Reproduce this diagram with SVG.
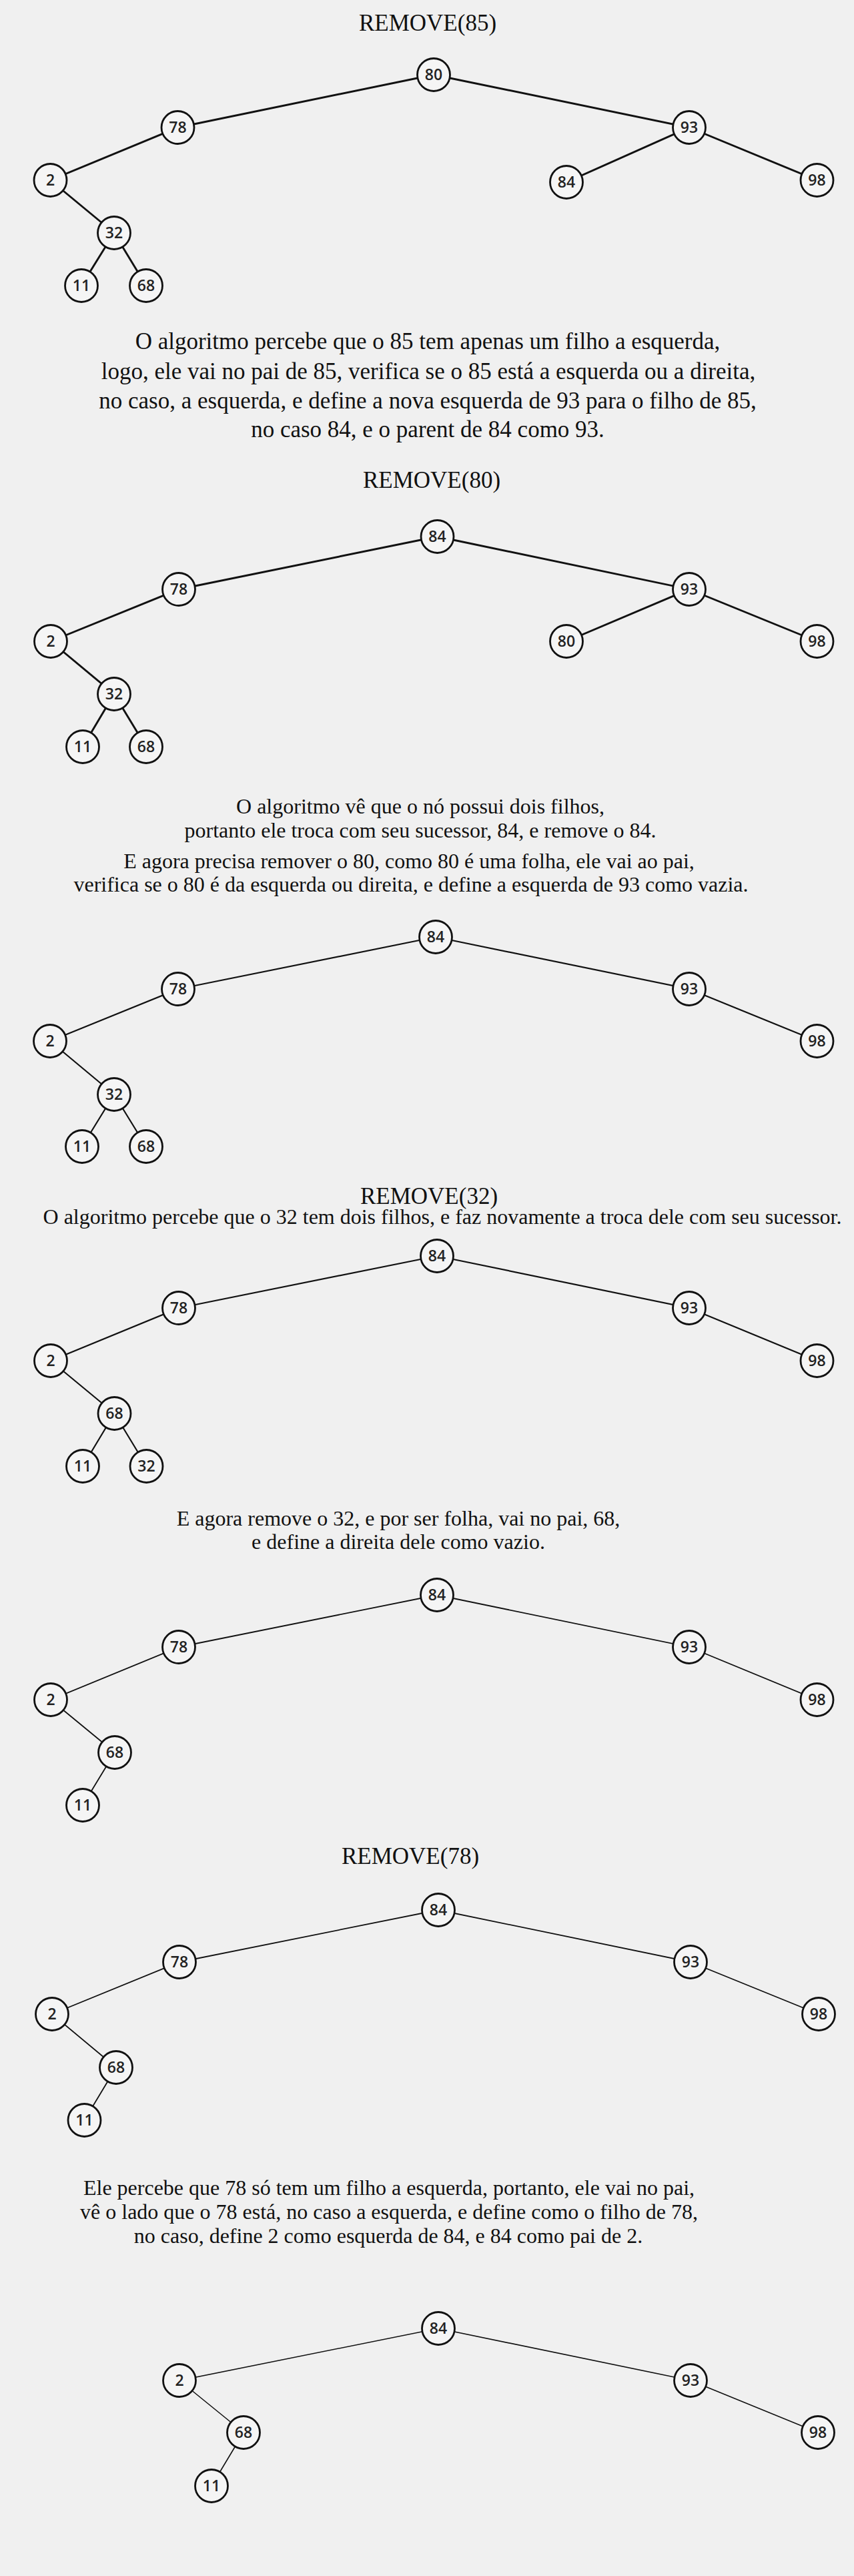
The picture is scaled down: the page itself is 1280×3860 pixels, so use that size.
<svg xmlns="http://www.w3.org/2000/svg" width="1280" height="3860" viewBox="0 0 1280 3860">
<style>
.bg{fill:#f0f0f0}
.t35{font-family:"Liberation Serif","Times New Roman",serif;font-size:35px;text-anchor:middle;fill:#111}
.t32{font-family:"Liberation Serif","Times New Roman",serif;font-size:32px;text-anchor:middle;fill:#111}
.n circle{fill:#f5f5f5;stroke:#111;stroke-width:2.8}
.n text{font-family:"Open Sans","Noto Sans",sans-serif;font-size:23px;font-weight:600;text-anchor:middle;fill:#222}
.e line{stroke:#111;stroke-linecap:round}
.w1{stroke-width:2.9}
.w2{stroke-width:2.2}
.w3{stroke-width:1.8}
.w4{stroke-width:1.6}
</style>
<rect class="bg" x="0" y="0" width="1280" height="3860"/>

<g id="texts">
<text class="t35" x="641" y="46">REMOVE(85)</text>
<text class="t35" x="641" y="523">O algoritmo percebe que o 85 tem apenas um filho a esquerda,</text>
<text class="t35" x="642" y="568">logo, ele vai no pai de 85, verifica se o 85 está a esquerda ou a direita,</text>
<text class="t35" x="641" y="612">no caso, a esquerda, e define a nova esquerda de 93 para o filho de 85,</text>
<text class="t35" x="641" y="655">no caso 84, e o parent de 84 como 93.</text>
<text class="t35" x="647" y="731">REMOVE(80)</text>
<text class="t32" x="630" y="1219">O algoritmo vê que o nó possui dois filhos,</text>
<text class="t32" x="630" y="1255">portanto ele troca com seu sucessor, 84, e remove o 84.</text>
<text class="t32" x="613" y="1301">E agora precisa remover o 80, como 80 é uma folha, ele vai ao pai,</text>
<text class="t32" x="616" y="1336">verifica se o 80 é da esquerda ou direita, e define a esquerda de 93 como vazia.</text>
<text class="t35" x="643" y="1804">REMOVE(32)</text>
<text class="t32" x="663" y="1834">O algoritmo percebe que o 32 tem dois filhos, e faz novamente a troca dele com seu sucessor.</text>
<text class="t32" x="597" y="2286">E agora remove o 32, e por ser folha, vai no pai, 68,</text>
<text class="t32" x="597" y="2321">e define a direita dele como vazio.</text>
<text class="t35" x="615" y="2793">REMOVE(78)</text>
<text class="t32" x="583" y="3289">Ele percebe que 78 só tem um filho a esquerda, portanto, ele vai no pai,</text>
<text class="t32" x="583" y="3325">vê o lado que o 78 está, no caso a esquerda, e define como o filho de 78,</text>
<text class="t32" x="582" y="3361">no caso, define 2 como esquerda de 84, e 84 como pai de 2.</text>
</g>

<g id="connectors" class="e">
<g class="w1">
<line x1="650" y1="112" x2="266.5" y2="191"/>
<line x1="650" y1="112" x2="1033" y2="191"/>
<line x1="266.5" y1="191" x2="75.5" y2="270"/>
<line x1="75.5" y1="270" x2="171" y2="349"/>
<line x1="171" y1="349" x2="122" y2="428"/>
<line x1="171" y1="349" x2="219" y2="428"/>
<line x1="1033" y1="191" x2="849" y2="273"/>
<line x1="1033" y1="191" x2="1224.5" y2="270"/>

<line x1="655.5" y1="804" x2="268" y2="883"/>
<line x1="655.5" y1="804" x2="1033" y2="883"/>
<line x1="268" y1="883" x2="76" y2="961"/>
<line x1="76" y1="961" x2="171" y2="1040"/>
<line x1="171" y1="1040" x2="124" y2="1119"/>
<line x1="171" y1="1040" x2="219" y2="1119"/>
<line x1="1033" y1="883" x2="849" y2="961"/>
<line x1="1033" y1="883" x2="1224.5" y2="961"/>
</g>
<g class="w2">
<line x1="653" y1="1404" x2="267" y2="1482"/>
<line x1="653" y1="1404" x2="1033" y2="1482"/>
<line x1="267" y1="1482" x2="75" y2="1560"/>
<line x1="1033" y1="1482" x2="1224.5" y2="1560"/>
<line x1="75" y1="1560" x2="171" y2="1640"/>
<line x1="171" y1="1640" x2="123" y2="1718"/>
<line x1="171" y1="1640" x2="219" y2="1718"/>

<line x1="655" y1="1882" x2="268" y2="1960"/>
<line x1="655" y1="1882" x2="1033" y2="1960"/>
<line x1="268" y1="1960" x2="76" y2="2039"/>
<line x1="1033" y1="1960" x2="1224.5" y2="2039"/>
<line x1="76" y1="2039" x2="171.5" y2="2118"/>
<line x1="171.5" y1="2118" x2="124" y2="2197"/>
<line x1="171.5" y1="2118" x2="219.5" y2="2197"/>
</g>
<g class="w3">
<line x1="655" y1="2390" x2="268" y2="2468"/>
<line x1="655" y1="2390" x2="1033" y2="2468"/>
<line x1="268" y1="2468" x2="76" y2="2547"/>
<line x1="1033" y1="2468" x2="1224.5" y2="2547"/>
<line x1="76" y1="2547" x2="172" y2="2626"/>
<line x1="172" y1="2626" x2="124" y2="2705"/>

<line x1="657" y1="2862" x2="269" y2="2940"/>
<line x1="657" y1="2862" x2="1035" y2="2940"/>
<line x1="269" y1="2940" x2="78" y2="3018"/>
<line x1="1035" y1="2940" x2="1227" y2="3018"/>
<line x1="78" y1="3018" x2="174" y2="3098"/>
<line x1="174" y1="3098" x2="126.5" y2="3177"/>
</g>
<g class="w4">
<line x1="657" y1="3489" x2="269" y2="3567"/>
<line x1="657" y1="3489" x2="1035" y2="3567"/>
<line x1="269" y1="3567" x2="365" y2="3645"/>
<line x1="1035" y1="3567" x2="1226" y2="3645"/>
<line x1="365" y1="3645" x2="317" y2="3725"/>
</g>
</g>

<!-- Tree 1 -->
<g id="t1-80" class="n"><circle cx="650" cy="112" r="24.5"/><text x="650" y="120">80</text></g>
<g id="t1-78" class="n"><circle cx="266.5" cy="191" r="24.5"/><text x="266.5" y="199">78</text></g>
<g id="t1-93" class="n"><circle cx="1033" cy="191" r="24.5"/><text x="1033" y="199">93</text></g>
<g id="t1-2" class="n"><circle cx="75.5" cy="270" r="24.5"/><text x="75.5" y="278">2</text></g>
<g id="t1-84" class="n"><circle cx="849" cy="273" r="24.5"/><text x="849" y="281">84</text></g>
<g id="t1-98" class="n"><circle cx="1224.5" cy="270" r="24.5"/><text x="1224.5" y="278">98</text></g>
<g id="t1-32" class="n"><circle cx="171" cy="349" r="24.5"/><text x="171" y="357">32</text></g>
<g id="t1-11" class="n"><circle cx="122" cy="428" r="24.5"/><text x="122" y="436">11</text></g>
<g id="t1-68" class="n"><circle cx="219" cy="428" r="24.5"/><text x="219" y="436">68</text></g>

<!-- Tree 2 -->
<g id="t2-84" class="n"><circle cx="655.5" cy="804" r="24.5"/><text x="655.5" y="812">84</text></g>
<g id="t2-78" class="n"><circle cx="268" cy="883" r="24.5"/><text x="268" y="891">78</text></g>
<g id="t2-93" class="n"><circle cx="1033" cy="883" r="24.5"/><text x="1033" y="891">93</text></g>
<g id="t2-2" class="n"><circle cx="76" cy="961" r="24.5"/><text x="76" y="969">2</text></g>
<g id="t2-80" class="n"><circle cx="849" cy="961" r="24.5"/><text x="849" y="969">80</text></g>
<g id="t2-98" class="n"><circle cx="1224.5" cy="961" r="24.5"/><text x="1224.5" y="969">98</text></g>
<g id="t2-32" class="n"><circle cx="171" cy="1040" r="24.5"/><text x="171" y="1048">32</text></g>
<g id="t2-11" class="n"><circle cx="124" cy="1119" r="24.5"/><text x="124" y="1127">11</text></g>
<g id="t2-68" class="n"><circle cx="219" cy="1119" r="24.5"/><text x="219" y="1127">68</text></g>

<!-- Tree 3 -->
<g id="t3-84" class="n"><circle cx="653" cy="1404" r="24.5"/><text x="653" y="1412">84</text></g>
<g id="t3-78" class="n"><circle cx="267" cy="1482" r="24.5"/><text x="267" y="1490">78</text></g>
<g id="t3-93" class="n"><circle cx="1033" cy="1482" r="24.5"/><text x="1033" y="1490">93</text></g>
<g id="t3-2" class="n"><circle cx="75" cy="1560" r="24.5"/><text x="75" y="1568">2</text></g>
<g id="t3-98" class="n"><circle cx="1224.5" cy="1560" r="24.5"/><text x="1224.5" y="1568">98</text></g>
<g id="t3-32" class="n"><circle cx="171" cy="1640" r="24.5"/><text x="171" y="1648">32</text></g>
<g id="t3-11" class="n"><circle cx="123" cy="1718" r="24.5"/><text x="123" y="1726">11</text></g>
<g id="t3-68" class="n"><circle cx="219" cy="1718" r="24.5"/><text x="219" y="1726">68</text></g>

<!-- Tree 4 -->
<g id="t4-84" class="n"><circle cx="655" cy="1882" r="24.5"/><text x="655" y="1890">84</text></g>
<g id="t4-78" class="n"><circle cx="268" cy="1960" r="24.5"/><text x="268" y="1968">78</text></g>
<g id="t4-93" class="n"><circle cx="1033" cy="1960" r="24.5"/><text x="1033" y="1968">93</text></g>
<g id="t4-2" class="n"><circle cx="76" cy="2039" r="24.5"/><text x="76" y="2047">2</text></g>
<g id="t4-98" class="n"><circle cx="1224.5" cy="2039" r="24.5"/><text x="1224.5" y="2047">98</text></g>
<g id="t4-68" class="n"><circle cx="171.5" cy="2118" r="24.5"/><text x="171.5" y="2126">68</text></g>
<g id="t4-11" class="n"><circle cx="124" cy="2197" r="24.5"/><text x="124" y="2205">11</text></g>
<g id="t4-32" class="n"><circle cx="219.5" cy="2197" r="24.5"/><text x="219.5" y="2205">32</text></g>

<!-- Tree 5 -->
<g id="t5-84" class="n"><circle cx="655" cy="2390" r="24.5"/><text x="655" y="2398">84</text></g>
<g id="t5-78" class="n"><circle cx="268" cy="2468" r="24.5"/><text x="268" y="2476">78</text></g>
<g id="t5-93" class="n"><circle cx="1033" cy="2468" r="24.5"/><text x="1033" y="2476">93</text></g>
<g id="t5-2" class="n"><circle cx="76" cy="2547" r="24.5"/><text x="76" y="2555">2</text></g>
<g id="t5-98" class="n"><circle cx="1224.5" cy="2547" r="24.5"/><text x="1224.5" y="2555">98</text></g>
<g id="t5-68" class="n"><circle cx="172" cy="2626" r="24.5"/><text x="172" y="2634">68</text></g>
<g id="t5-11" class="n"><circle cx="124" cy="2705" r="24.5"/><text x="124" y="2713">11</text></g>

<!-- Tree 6 -->
<g id="t6-84" class="n"><circle cx="657" cy="2862" r="24.5"/><text x="657" y="2870">84</text></g>
<g id="t6-78" class="n"><circle cx="269" cy="2940" r="24.5"/><text x="269" y="2948">78</text></g>
<g id="t6-93" class="n"><circle cx="1035" cy="2940" r="24.5"/><text x="1035" y="2948">93</text></g>
<g id="t6-2" class="n"><circle cx="78" cy="3018" r="24.5"/><text x="78" y="3026">2</text></g>
<g id="t6-98" class="n"><circle cx="1227" cy="3018" r="24.5"/><text x="1227" y="3026">98</text></g>
<g id="t6-68" class="n"><circle cx="174" cy="3098" r="24.5"/><text x="174" y="3106">68</text></g>
<g id="t6-11" class="n"><circle cx="126.5" cy="3177" r="24.5"/><text x="126.5" y="3185">11</text></g>

<!-- Tree 7 -->
<g id="t7-84" class="n"><circle cx="657" cy="3489" r="24.5"/><text x="657" y="3497">84</text></g>
<g id="t7-2" class="n"><circle cx="269" cy="3567" r="24.5"/><text x="269" y="3575">2</text></g>
<g id="t7-93" class="n"><circle cx="1035" cy="3567" r="24.5"/><text x="1035" y="3575">93</text></g>
<g id="t7-68" class="n"><circle cx="365" cy="3645" r="24.5"/><text x="365" y="3653">68</text></g>
<g id="t7-98" class="n"><circle cx="1226" cy="3645" r="24.5"/><text x="1226" y="3653">98</text></g>
<g id="t7-11" class="n"><circle cx="317" cy="3725" r="24.5"/><text x="317" y="3733">11</text></g>
</svg>
